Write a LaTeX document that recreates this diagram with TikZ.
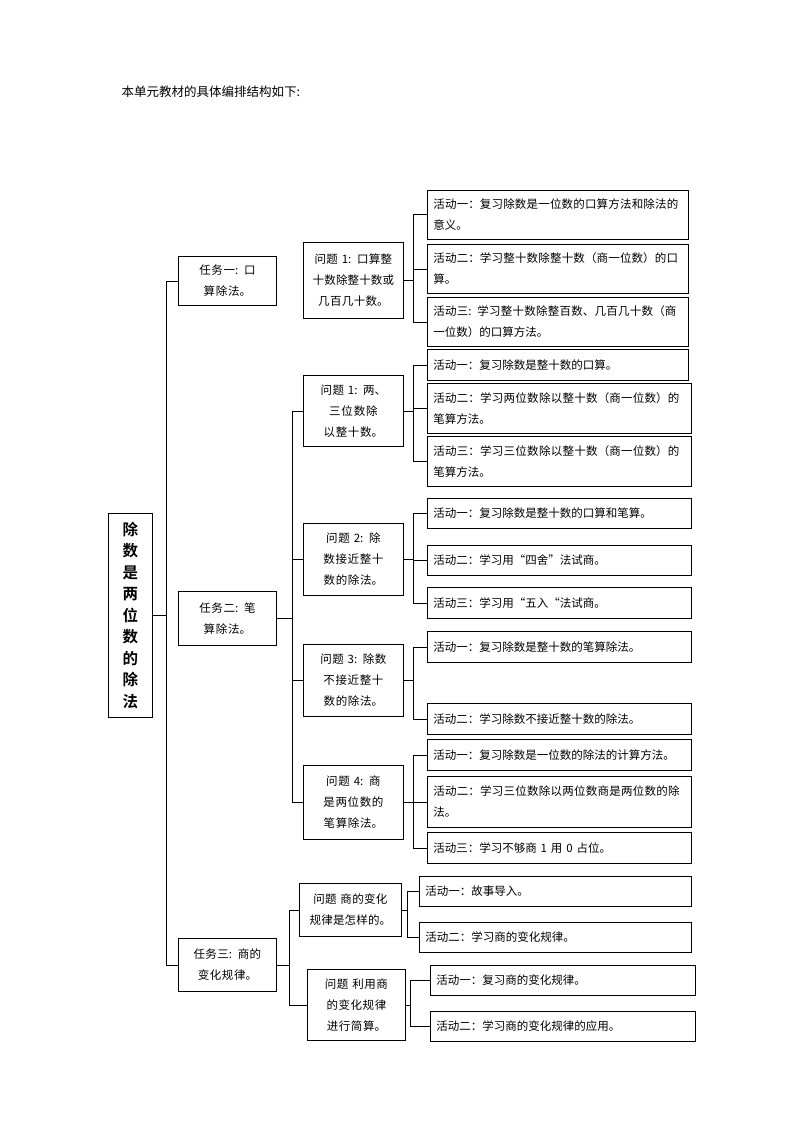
\documentclass[tikz,border=0pt]{standalone}
\usepackage{fontspec}
\newfontfamily\cjk{Noto Sans CJK SC}[BoldFont={Noto Sans CJK SC Bold}]
\XeTeXlinebreaklocale "zh"
\XeTeXlinebreakskip=0pt plus 1pt
\tikzset{
  cell/.style={draw, thick, inner xsep=6pt, inner ysep=3pt, anchor=north west,
    font=\cjk\fontsize{11.5}{21}\selectfont},
  link/.style={thick}
}
\begin{document}
\begin{tikzpicture}[x=1pt,y=-1pt]
    \useasboundingbox (0,0) rectangle (794,1123);
    \node[anchor=west, font=\cjk\fontsize{12.5}{15}\selectfont] (head) at (118,92) {本单元教材的具体编排结构如下:};

    % Kasten: Name/x1/y1/x2/y2/Ausrichtung/Text
    \foreach \n/\xa/\ya/\xb/\yb/\al/\txt in {
        t1/178/256/276/305/center/{任务一: 口算除法。},
        t2/178/591/276/645/center/{任务二: 笔算除法。},
        t3/178/938/276/991/center/{任务三: 商的变化规律。},
        qa/303/242/403/318/center/{问题 1: 口算整十数除整十数或几百几十数。},
        qb/303/375/403/446/center/{问题 1: 两、三位数除以整十数。},
        qc/303/523/403/595/center/{问题 2: 除数接近整十数的除法。},
        qd/303/644/403/716/center/{问题 3: 除数不接近整十数的除法。},
        qe/303/765/403/839/center/{问题 4: 商是两位数的笔算除法。},
        qf/299/883/401/936/center/{问题 商的变化规律是怎样的。},
        qg/307/969/405/1040/center/{问题 利用商的变化规律进行简算。},
        aa1/427/190/688/239/left/{活动一：复习除数是一位数的口算方法和除法的意义。},
        aa2/427/244/688/293/left/{活动二：学习整十数除整十数（商一位数）的口算。},
        aa3/427/297/688/346/left/{活动三: 学习整十数除整百数、几百几十数（商一位数）的口算方法。},
        ab1/427/349/688/380/left/{活动一：复习除数是整十数的口算。},
        ab2/427/383/691/433/left/{活动二：学习两位数除以整十数（商一位数）的笔算方法。},
        ab3/427/436/691/486/left/{活动三：学习三位数除以整十数（商一位数）的笔算方法。},
        ac1/427/498/691/528/left/{活动一：复习除数是整十数的口算和笔算。},
        ac2/427/545/691/575/left/{活动二：学习用“四舍”法试商。},
        ac3/427/587/691/618/left/{活动三：学习用“五入“法试商。},
        ad1/427/631/691/662/left/{活动一：复习除数是整十数的笔算除法。},
        ad2/427/703/691/734/left/{活动二：学习除数不接近整十数的除法。},
        ae1/427/739/691/770/left/{活动一：复习除数是一位数的除法的计算方法。},
        ae2/427/776/691/827/left/{活动二：学习三位数除以两位数商是两位数的除法。},
        ae3/427/832/691/863/left/{活动三：学习不够商 1 用 0 占位。},
        af1/419/876/691/906/left/{活动一：故事导入。},
        af2/419/922/691/952/left/{活动二：学习商的变化规律。},
        ag1/430/965/695/995/left/{活动一：复习商的变化规律。},
        ag2/430/1011/695/1041/left/{活动二：学习商的变化规律的应用。}
        } {
        \pgfmathsetmacro{\w}{\xb-\xa-12}
        \pgfmathsetmacro{\h}{\yb-\ya}
        \node[cell, text width=\w pt, align=\al, minimum height=\h pt] (\n) at (\xa,\ya) {\txt};
    }
    \node[cell, inner xsep=2pt, text width=40pt, align=center, minimum height=204pt,
          font=\cjk\bfseries\fontsize{15.5}{21.5}\selectfont] (root) at (108,513)
          {除\\数\\是\\两\\位\\数\\的\\除\\法};

    % Verbindungen
    \draw[link] (root.east) -- ++(14,0);
    \draw[link] (t1.west) -- ++(-12,0) |- (t3.west);
    \draw[link] (t2.east) -- ++(16,0) coordinate (j2);
    \draw[link] (qb.west) -- ++(-11,0) |- (qe.west);
    \foreach \q in {qc,qd} { \draw[link] (\q.west) -- ++(-11,0); }
    \draw[link] (t3.east) -- ++(13,0) coordinate (j3);
    \draw[link] (qf.west) -| (j3) |- (qg.west);
    \foreach \q/\a/\b in {qa/aa1/aa3, qb/ab1/ab3, qc/ac1/ac3, qd/ad1/ad2, qe/ae1/ae3} {
        \draw[link] (\q.east) -- ++(10,0) coordinate (\q-j);
        \draw[link] (\a.west) -- ++(-14,0) |- (\b.west);
    }
    \draw[link] (ac2.west) -- ++(-14,0);
    \draw[link] (ae2.west) -- ++(-14,0);
    \draw[link] (ab2.west) -- ++(-14,0);
    \draw[link] (aa2.west) -- ++(-14,0);
    \draw[link] (qf.east) -- ++(6,0) coordinate (qf-j);
    \draw[link] (af1.west) -| (qf-j) |- (af2.west);
    \draw[link] (qg.east) -- ++(5,0) coordinate (qg-j);
    \draw[link] (ag1.west) -| (qg-j) |- (ag2.west);
\end{tikzpicture}
\end{document}
